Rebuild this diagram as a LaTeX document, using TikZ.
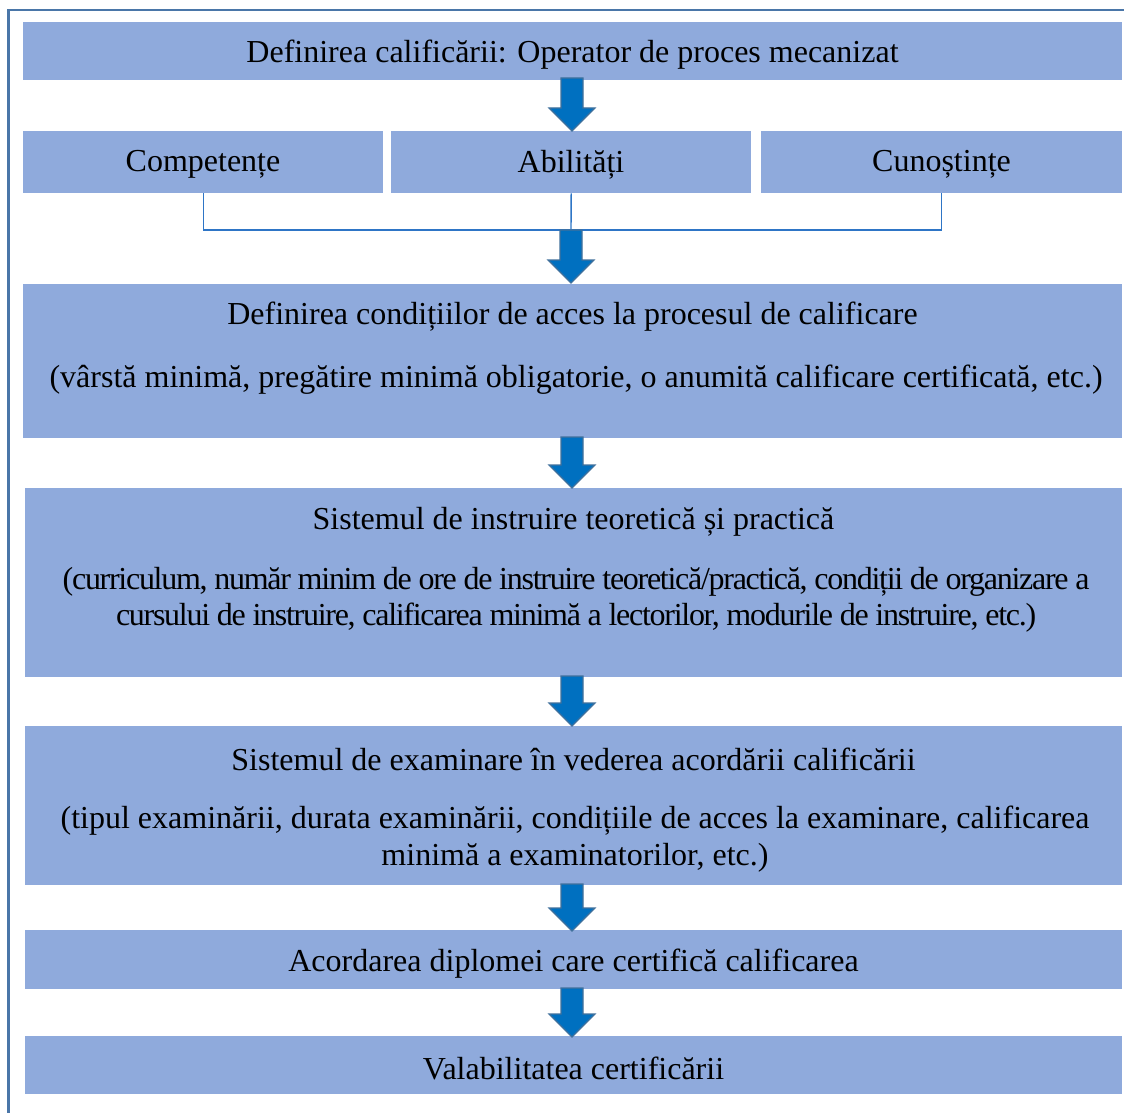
\documentclass[tikz,border=0pt]{standalone}
\usepackage{fontspec}
\setmainfont{Liberation Serif}
\usetikzlibrary{calc}
\definecolor{boxblue}{HTML}{8FAADC}
\definecolor{framecol}{HTML}{4A76A8}
\definecolor{arrfill}{HTML}{0070C0}
\definecolor{arredge}{HTML}{41719C}
\definecolor{linecol}{HTML}{2E75C6}
\tikzset{
  box/.style={fill=boxblue, draw=none, inner sep=0pt, anchor=north west},
  txt/.style={inner sep=0pt, font=\fontsize{32}{37}\selectfont, align=center, yshift=-2.5pt},
  blockarr/.style={fill=arrfill, draw=arredge, line width=1.2pt, line join=miter},
  joinline/.style={draw=linecol, line width=1.4pt}
}
\newcommand\blockarrow[2]{%
  \path[blockarr] let \p1=(#1), \p2=(#2) in
    (\x1-11pt,\y1) -- (\x1+11pt,\y1) -- (\x1+11pt,\y2+23pt) -- (\x1+23pt,\y2+23pt)
    -- (\x1,\y2) -- (\x1-23pt,\y2+23pt) -- (\x1-11pt,\y2+23pt) -- cycle;}
\begin{document}
\begin{tikzpicture}[x=1pt,y=-1pt]
\clip (0,0) rectangle (1124,1113);
\fill[white] (0,0) rectangle (1124,1113);
% outer frame
\draw[framecol, line width=2.7pt] (8.7,10) rectangle (1140,1130);
% boxes
\node[box, minimum width=1099, minimum height=58] (b1) at (23,22) {};
\node[txt] (t1) at (572.5,52) {Definirea calificării: Operator de proces mecanizat};
\node[box, minimum width=360, minimum height=62] (c1) at (23,131) {};
\node[box, minimum width=360, minimum height=62] (c2) at (391,131) {};
\node[box, minimum width=361, minimum height=62] (c3) at (761,131) {};
\node[txt] (tc1) at (203,162) {Competențe};
\node[txt] (tc2) at (571,162) {Abilități};
\node[txt] (tc3) at (941.5,162) {Cunoștințe};
\node[box, minimum width=1099, minimum height=154] (b3) at (23,284) {};
\node[txt] (t3a) at (572.5,314) {Definirea condițiilor de acces la procesul de calificare};
\node[txt] (t3b) at (576,377) {(vârstă minimă, pregătire minimă obligatorie, o anumită calificare certificată, etc.)};
\node[box, minimum width=1097, minimum height=189] (b4) at (25,488) {};
\node[txt] (t4a) at (573.5,519) {Sistemul de instruire teoretică și practică};
\node[txt, font=\fontsize{32}{36}\selectfont\addfontfeature{LetterSpace=-4.0}] (t4b) at (576,597) {(curriculum, număr minim de ore de instruire teoretică/practică, condiții de organizare a\\cursului de instruire, calificarea minimă a lectorilor, modurile de instruire, etc.)};
\node[box, minimum width=1097, minimum height=159] (b5) at (25,726) {};
\node[txt] (t5a) at (573.5,757) {Sistemul de examinare în vederea acordării calificării};
\node[txt] (t5b) at (575,837) {(tipul examinării, durata examinării, condițiile de acces la examinare, calificarea\\minimă a examinatorilor, etc.)};
\node[box, minimum width=1097, minimum height=59] (b6) at (25,930) {};
\node[txt] (t6) at (573.5,961) {Acordarea diplomei care certifică calificarea};
\node[box, minimum width=1097, minimum height=58] (b7) at (25,1036) {};
\node[txt] (t7) at (573.5,1066) {Valabilitatea certificării};
% junction lines
\coordinate (jm) at (571,230);
\draw[joinline] (c1.south) |- (jm) -| (c3.south);
\draw[joinline] (c2.south) -- (jm);
% block arrows
\blockarrow{572,78}{572,131}
\blockarrow{jm}{571,283}
\blockarrow{572,437}{572,488}
\blockarrow{572,676}{572,726}
\blockarrow{572,884}{572,931}
\blockarrow{572,988}{572,1037}
\end{tikzpicture}
\end{document}
